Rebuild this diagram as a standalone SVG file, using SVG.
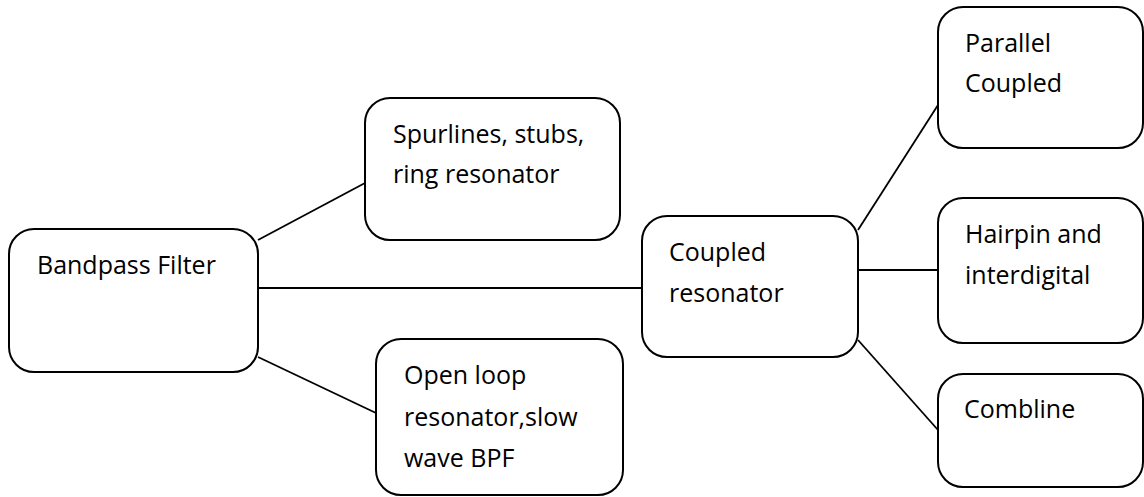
<svg xmlns="http://www.w3.org/2000/svg" width="1144" height="497" viewBox="0 0 1144 497">
  <style>
    .box { fill: #ffffff; stroke: #000000; stroke-width: 2; }
    .link { stroke: #000000; stroke-width: 1.8; fill: none; }
    .label { font-family: "Open Sans", "Noto Sans", sans-serif; font-size: 25px; fill: #000000; }
  </style>
  <rect width="1144" height="497" fill="#ffffff"/>

  <!-- connectors -->
  <g id="connectors">
    <line class="link" x1="258" y1="240" x2="365" y2="183"/>
    <line class="link" x1="258" y1="288" x2="642" y2="288"/>
    <line class="link" x1="258" y1="357" x2="376" y2="413"/>
    <line class="link" x1="858" y1="230" x2="938" y2="105"/>
    <line class="link" x1="858" y1="270" x2="938" y2="270"/>
    <line class="link" x1="858" y1="340" x2="938" y2="430"/>
  </g>

  <g id="bandpass-filter">
    <rect class="box" x="9" y="229" width="249" height="143" rx="25" ry="25"/>
    <text class="label" x="37" y="274">Bandpass Filter</text>
  </g>

  <g id="spurlines">
    <rect class="box" x="365" y="98" width="255" height="142" rx="25" ry="25"/>
    <text class="label" x="393" y="143">Spurlines, stubs,</text>
    <text class="label" x="393" y="183">ring resonator</text>
  </g>

  <g id="open-loop">
    <rect class="box" x="376" y="339" width="247" height="156" rx="25" ry="25"/>
    <text class="label" x="404" y="384">Open loop</text>
    <text class="label" x="404" y="426">resonator,slow</text>
    <text class="label" x="404" y="467">wave BPF</text>
  </g>

  <g id="coupled-resonator">
    <rect class="box" x="642" y="216" width="216" height="141" rx="25" ry="25"/>
    <text class="label" x="669" y="261">Coupled</text>
    <text class="label" x="669" y="302">resonator</text>
  </g>

  <g id="parallel-coupled">
    <rect class="box" x="938" y="7" width="205" height="141" rx="25" ry="25"/>
    <text class="label" x="965" y="52">Parallel</text>
    <text class="label" x="965" y="92">Coupled</text>
  </g>

  <g id="hairpin">
    <rect class="box" x="938" y="198" width="205" height="145" rx="25" ry="25"/>
    <text class="label" x="965" y="243">Hairpin and</text>
    <text class="label" x="965" y="284">interdigital</text>
  </g>

  <g id="combline">
    <rect class="box" x="938" y="374" width="205" height="113" rx="25" ry="25"/>
    <text class="label" x="964" y="418">Combline</text>
  </g>
</svg>
